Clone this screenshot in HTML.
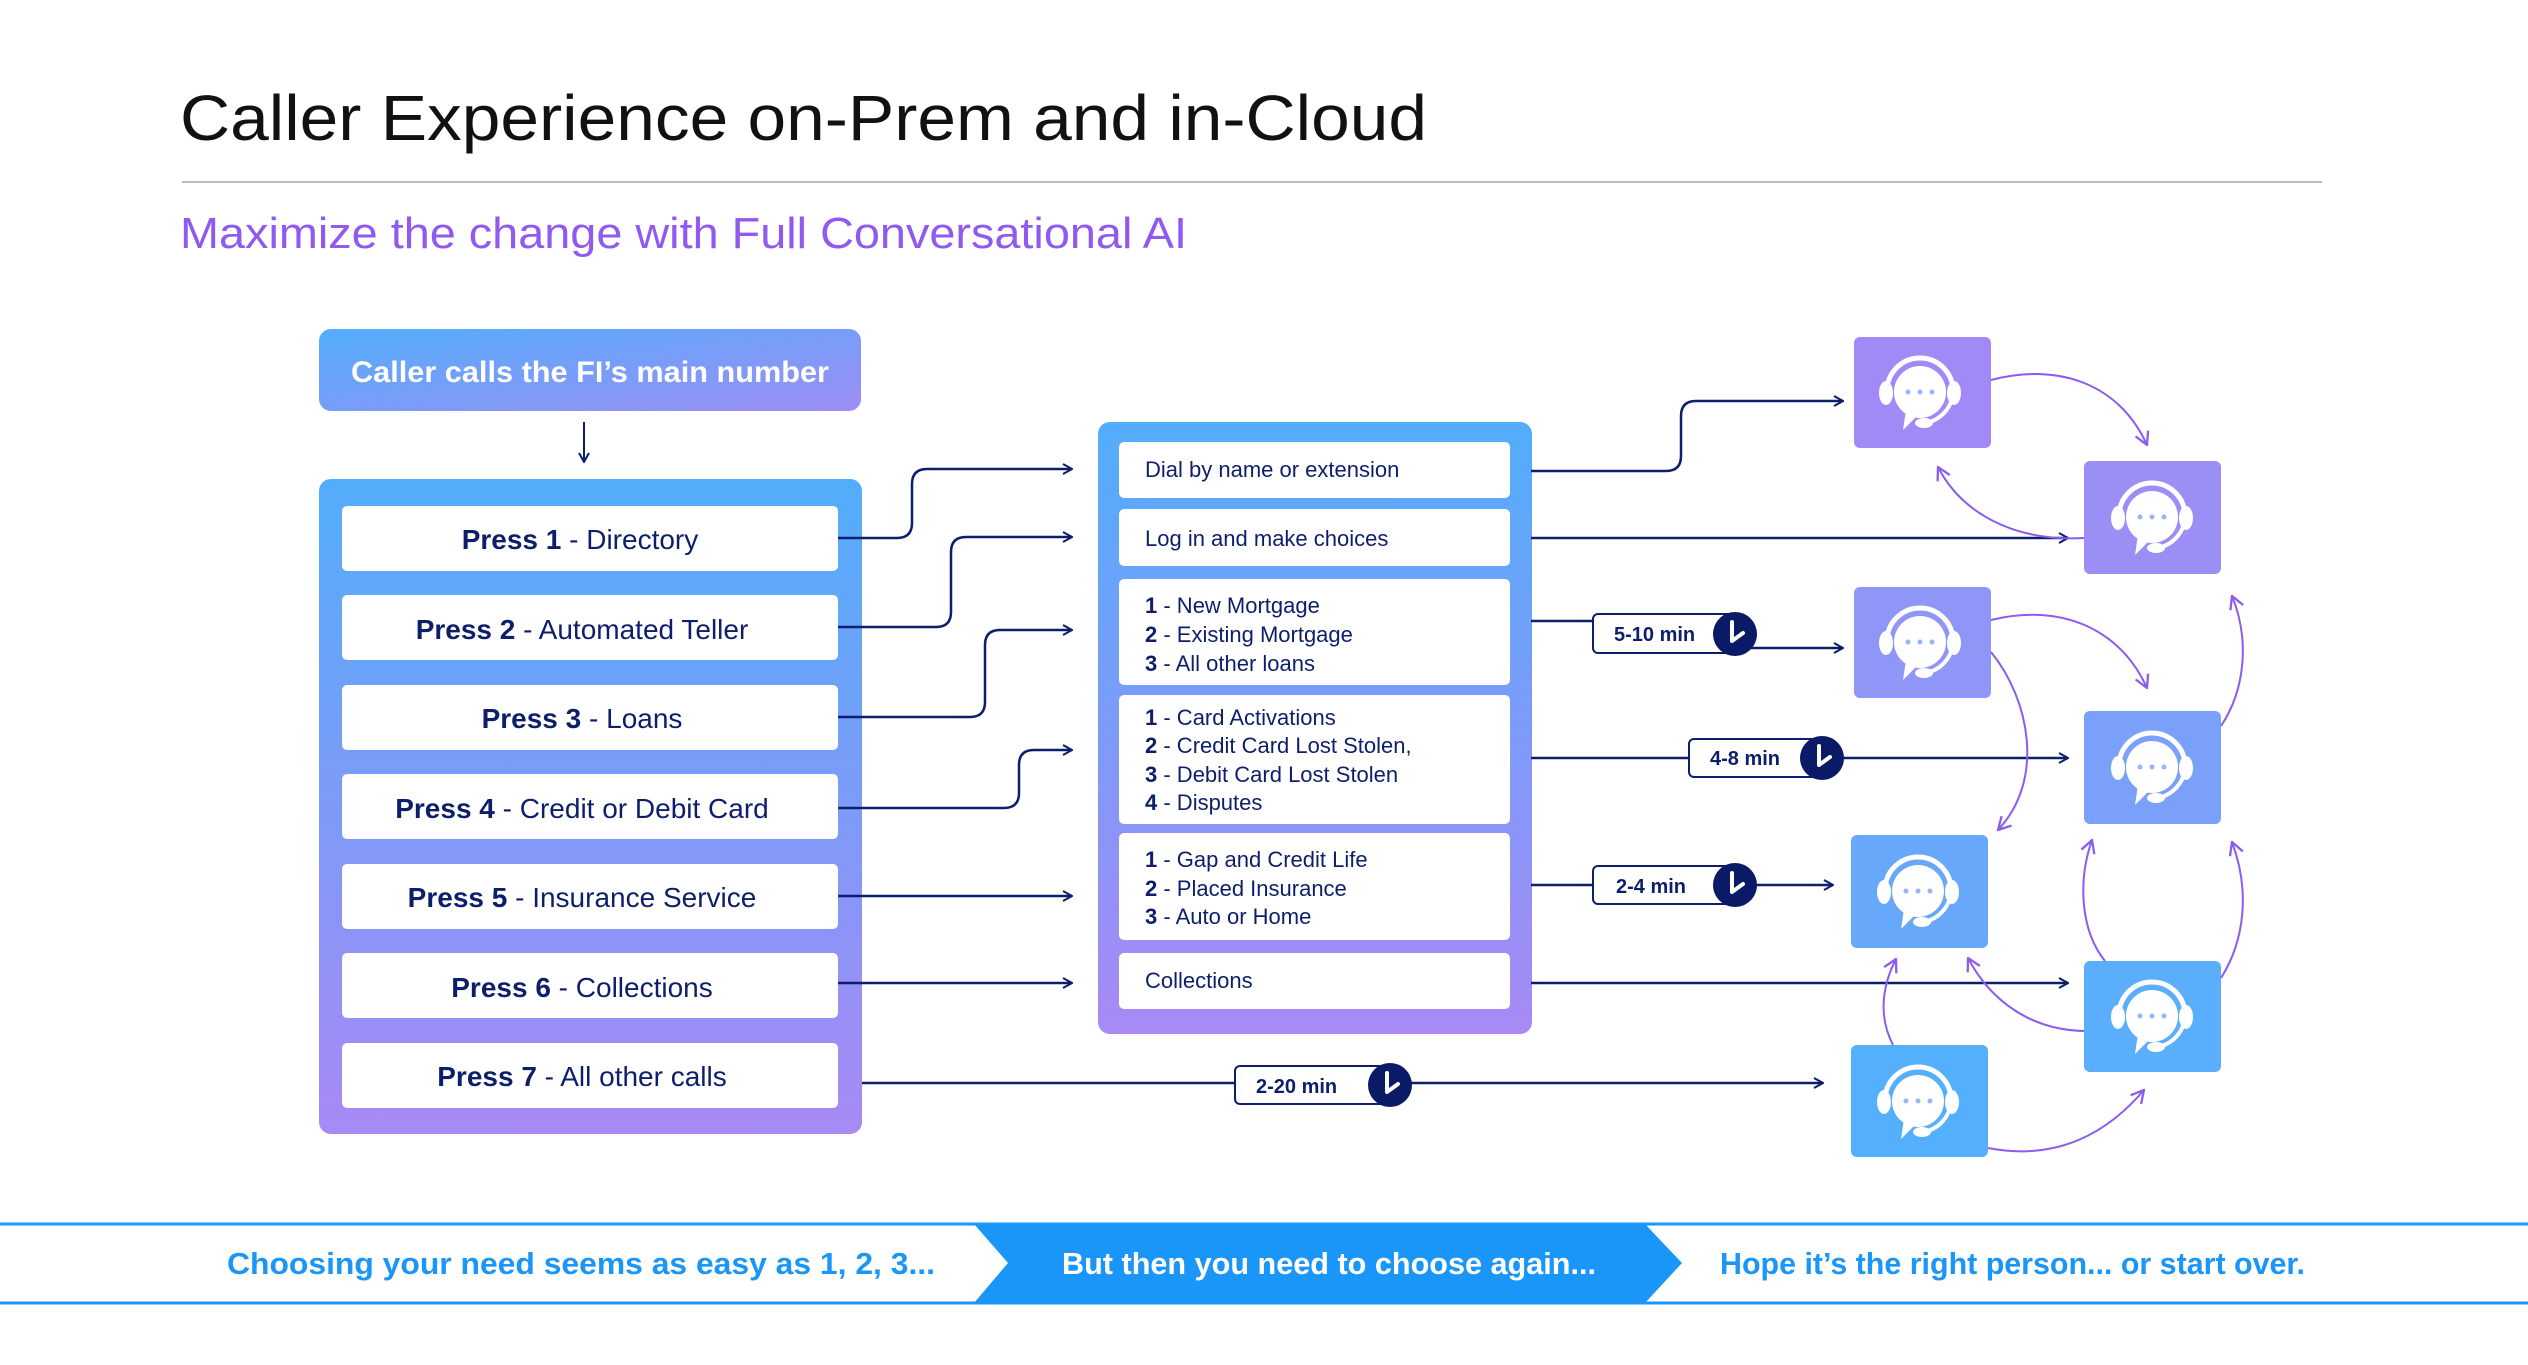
<!DOCTYPE html>
<html><head><meta charset="utf-8"><style>
html,body{margin:0;padding:0;background:#fff;}
svg{display:block;font-family:"Liberation Sans",Arial,sans-serif;}
</style></head><body>
<svg width="2528" height="1365" viewBox="0 0 2528 1365" xmlns="http://www.w3.org/2000/svg">
<defs>
<linearGradient id="vg" x1="0" y1="0" x2="0" y2="1"><stop offset="0" stop-color="#52adfb"/><stop offset="1" stop-color="#a889f5"/></linearGradient>
<linearGradient id="hg" x1="0" y1="0" x2="1" y2="1"><stop offset="0" stop-color="#52adfb"/><stop offset="1" stop-color="#9d8ef6"/></linearGradient>
<marker id="an" viewBox="0 0 12 12" refX="11" refY="6" markerWidth="12" markerHeight="12" markerUnits="userSpaceOnUse" orient="auto"><path d="M2,1 L11,6 L2,11" fill="none" stroke="#0d1e6b" stroke-width="2"/></marker>
<marker id="ap" viewBox="0 0 14 14" refX="13" refY="7" markerWidth="16" markerHeight="16" markerUnits="userSpaceOnUse" orient="auto"><path d="M2,1 L13,7 L2,13" fill="none" stroke="#8a5cf0" stroke-width="2"/></marker>
<g id="ic">
<ellipse cx="-34" cy="-2" rx="7" ry="12" fill="#fff"/>
<ellipse cx="34" cy="-2" rx="7" ry="12" fill="#fff"/>
<path d="M-33,-4 A33,33 0 0 1 33,-4" fill="none" stroke="#fff" stroke-width="5"/>
<path d="M33,-4 A33,33 0 0 1 5,28" fill="none" stroke="#fff" stroke-width="4"/>
<ellipse cx="4" cy="28" rx="9" ry="5" fill="#fff"/>
<circle cx="0" cy="-3" r="26" fill="#fff"/>
<path d="M-14,15 L-17,35 L-2,20 Z" fill="#fff"/>
</g>
<g id="ck"><circle r="22" fill="#0b1a66"/><path d="M-3,-12 V7 L8,-1" fill="none" stroke="#fff" stroke-width="4" stroke-linecap="round" stroke-linejoin="round"/></g>
</defs>

<text x="180" y="140" font-size="64" fill="#111" textLength="1247" lengthAdjust="spacingAndGlyphs">Caller Experience on-Prem and in-Cloud</text>
<line x1="182" y1="182" x2="2322" y2="182" stroke="#bbb" stroke-width="2"/>
<text x="180" y="248" font-size="44" fill="#9059f0" textLength="1007" lengthAdjust="spacingAndGlyphs">Maximize the change with Full Conversational AI</text>

<rect x="319" y="329" width="542" height="82" rx="12" fill="url(#hg)"/>
<text x="590" y="382" font-size="30" font-weight="bold" fill="#fff" text-anchor="middle" textLength="478" lengthAdjust="spacingAndGlyphs">Caller calls the FI’s main number</text>
<line x1="584" y1="422" x2="584" y2="462" stroke="#0d1e6b" stroke-width="2" marker-end="url(#an)"/>

<rect x="319" y="479" width="543" height="655" rx="12" fill="url(#vg)"/>
<g fill="#fff">
<rect x="342" y="506" width="496" height="65" rx="5"/>
<rect x="342" y="595" width="496" height="65" rx="5"/>
<rect x="342" y="685" width="496" height="65" rx="5"/>
<rect x="342" y="774" width="496" height="65" rx="5"/>
<rect x="342" y="864" width="496" height="65" rx="5"/>
<rect x="342" y="953" width="496" height="65" rx="5"/>
<rect x="342" y="1043" width="496" height="65" rx="5"/>
</g>
<g font-size="28" fill="#0d1e6b" text-anchor="middle">
<text x="580" y="549"><tspan font-weight="bold">Press 1</tspan> - Directory</text>
<text x="582" y="639"><tspan font-weight="bold">Press 2</tspan> - Automated Teller</text>
<text x="582" y="728"><tspan font-weight="bold">Press 3</tspan> - Loans</text>
<text x="582" y="818"><tspan font-weight="bold">Press 4</tspan> - Credit or Debit Card</text>
<text x="582" y="907"><tspan font-weight="bold">Press 5</tspan> - Insurance Service</text>
<text x="582" y="997"><tspan font-weight="bold">Press 6</tspan> - Collections</text>
<text x="582" y="1086"><tspan font-weight="bold">Press 7</tspan> - All other calls</text>
</g>

<rect x="1098" y="422" width="434" height="612" rx="12" fill="url(#vg)"/>
<g fill="#fff">
<rect x="1119" y="442" width="391" height="56" rx="5"/>
<rect x="1119" y="509" width="391" height="57" rx="5"/>
<rect x="1119" y="579" width="391" height="106" rx="5"/>
<rect x="1119" y="695" width="391" height="129" rx="5"/>
<rect x="1119" y="833" width="391" height="107" rx="5"/>
<rect x="1119" y="953" width="391" height="56" rx="5"/>
</g>
<g font-size="22" fill="#0d1e6b">
<text x="1145" y="477">Dial by name or extension</text>
<text x="1145" y="546">Log in and make choices</text>
<text x="1145" y="613"><tspan font-weight="bold">1</tspan> - New Mortgage</text>
<text x="1145" y="642"><tspan font-weight="bold">2</tspan> - Existing Mortgage</text>
<text x="1145" y="671"><tspan font-weight="bold">3</tspan> - All other loans</text>
<text x="1145" y="725"><tspan font-weight="bold">1</tspan> - Card Activations</text>
<text x="1145" y="753"><tspan font-weight="bold">2</tspan> - Credit Card Lost Stolen,</text>
<text x="1145" y="782"><tspan font-weight="bold">3</tspan> - Debit Card Lost Stolen</text>
<text x="1145" y="810"><tspan font-weight="bold">4</tspan> - Disputes</text>
<text x="1145" y="867"><tspan font-weight="bold">1</tspan> - Gap and Credit Life</text>
<text x="1145" y="896"><tspan font-weight="bold">2</tspan> - Placed Insurance</text>
<text x="1145" y="924"><tspan font-weight="bold">3</tspan> - Auto or Home</text>
<text x="1145" y="988">Collections</text>
</g>

<g fill="none" stroke="#0d1e6b" stroke-width="2.5">
<path d="M838,538 H897 Q912,538 912,523 V484 Q912,469 927,469 H1072" marker-end="url(#an)"/>
<path d="M838,627 H936 Q951,627 951,612 V552 Q951,537 966,537 H1072" marker-end="url(#an)"/>
<path d="M838,717 H970 Q985,717 985,702 V645 Q985,630 1000,630 H1072" marker-end="url(#an)"/>
<path d="M838,808 H1004 Q1019,808 1019,793 V765 Q1019,750 1034,750 H1072" marker-end="url(#an)"/>
<path d="M838,896 H1072" marker-end="url(#an)"/>
<path d="M838,983 H1072" marker-end="url(#an)"/>
<path d="M862,1083 H1823" marker-end="url(#an)"/>
<path d="M1531,471 H1666 Q1681,471 1681,456 V416 Q1681,401 1696,401 H1843" marker-end="url(#an)"/>
<path d="M1531,538 H2068" marker-end="url(#an)"/>
<path d="M1531,621 H1593"/>
<path d="M1735,648 H1843" marker-end="url(#an)"/>
<path d="M1531,758 H2068" marker-end="url(#an)"/>
<path d="M1531,885 H1833" marker-end="url(#an)"/>
<path d="M1531,983 H2068" marker-end="url(#an)"/>
</g>

<g stroke="#0d1e6b" stroke-width="2" fill="#fff">
<rect x="1235" y="1066" width="150" height="38" rx="5"/>
<rect x="1593" y="614" width="140" height="39" rx="5"/>
<rect x="1689" y="739" width="130" height="38" rx="5"/>
<rect x="1593" y="866" width="140" height="38" rx="5"/>
</g>
<g font-size="20" font-weight="bold" fill="#0d1e6b">
<text x="1256" y="1093">2-20 min</text>
<text x="1614" y="641">5-10 min</text>
<text x="1710" y="765">4-8 min</text>
<text x="1616" y="893">2-4 min</text>
</g>
<use href="#ck" x="1390" y="1085"/>
<use href="#ck" x="1735" y="634"/>
<use href="#ck" x="1822" y="758"/>
<use href="#ck" x="1735" y="885"/>

<rect x="1854" y="337" width="137" height="111" rx="6" fill="#a28af6"/>
<rect x="2084" y="461" width="137" height="113" rx="6" fill="#9b8ff6"/>
<rect x="1854" y="587" width="137" height="111" rx="6" fill="#8f96f7"/>
<rect x="2084" y="711" width="137" height="113" rx="6" fill="#7aa0f9"/>
<rect x="1851" y="835" width="137" height="113" rx="6" fill="#67a8fa"/>
<rect x="2084" y="961" width="137" height="111" rx="6" fill="#5aaefc"/>
<rect x="1851" y="1045" width="137" height="112" rx="6" fill="#54b0fd"/>
<use href="#ic" x="1920" y="395"/>
<use href="#ic" x="2152" y="520"/>
<use href="#ic" x="1920" y="645"/>
<use href="#ic" x="2152" y="770"/>
<use href="#ic" x="1918" y="894"/>
<use href="#ic" x="2152" y="1019"/>
<use href="#ic" x="1918" y="1104"/>
<g fill="#9ab4fa">
<circle cx="1908" cy="392" r="2.5"/><circle cx="1920" cy="392" r="2.5"/><circle cx="1932" cy="392" r="2.5"/>
<circle cx="2140" cy="517" r="2.5"/><circle cx="2152" cy="517" r="2.5"/><circle cx="2164" cy="517" r="2.5"/>
<circle cx="1908" cy="642" r="2.5"/><circle cx="1920" cy="642" r="2.5"/><circle cx="1932" cy="642" r="2.5"/>
<circle cx="2140" cy="767" r="2.5"/><circle cx="2152" cy="767" r="2.5"/><circle cx="2164" cy="767" r="2.5"/>
<circle cx="1906" cy="891" r="2.5"/><circle cx="1918" cy="891" r="2.5"/><circle cx="1930" cy="891" r="2.5"/>
<circle cx="2140" cy="1016" r="2.5"/><circle cx="2152" cy="1016" r="2.5"/><circle cx="2164" cy="1016" r="2.5"/>
<circle cx="1906" cy="1101" r="2.5"/><circle cx="1918" cy="1101" r="2.5"/><circle cx="1930" cy="1101" r="2.5"/>
</g>

<g fill="none" stroke="#8a5cf0" stroke-width="2" marker-end="url(#ap)">
<path d="M1991,380 C2060,362 2120,385 2147,445"/>
<path d="M2084,538 C2010,542 1960,510 1938,467"/>
<path d="M1991,620 C2060,603 2120,628 2147,688"/>
<path d="M1991,652 C2030,700 2045,780 1998,830"/>
<path d="M2221,726 C2245,690 2250,640 2232,596"/>
<path d="M2105,961 C2080,930 2078,880 2092,840"/>
<path d="M2221,978 C2245,940 2250,890 2232,842"/>
<path d="M2084,1031 C2030,1030 1990,1000 1968,958"/>
<path d="M1893,1045 C1880,1020 1880,990 1896,959"/>
<path d="M1988,1148 C2060,1162 2110,1130 2144,1090"/>
</g>

<line x1="0" y1="1224" x2="2528" y2="1224" stroke="#1a96f8" stroke-width="3"/>
<line x1="0" y1="1303" x2="2528" y2="1303" stroke="#1a96f8" stroke-width="3"/>
<path d="M974,1224 H1645 L1682,1263 L1645,1303 H974 L1008,1263 Z" fill="#1a96f8"/>
<g font-size="31" font-weight="bold">
<text x="227" y="1274" fill="#1a96f8" textLength="708" lengthAdjust="spacingAndGlyphs">Choosing your need seems as easy as 1, 2, 3...</text>
<text x="1062" y="1274" fill="#fff" textLength="534" lengthAdjust="spacingAndGlyphs">But then you need to choose again...</text>
<text x="1720" y="1274" fill="#1a96f8" textLength="585" lengthAdjust="spacingAndGlyphs">Hope it’s the right person... or start over.</text>
</g>
</svg>
</body></html>
